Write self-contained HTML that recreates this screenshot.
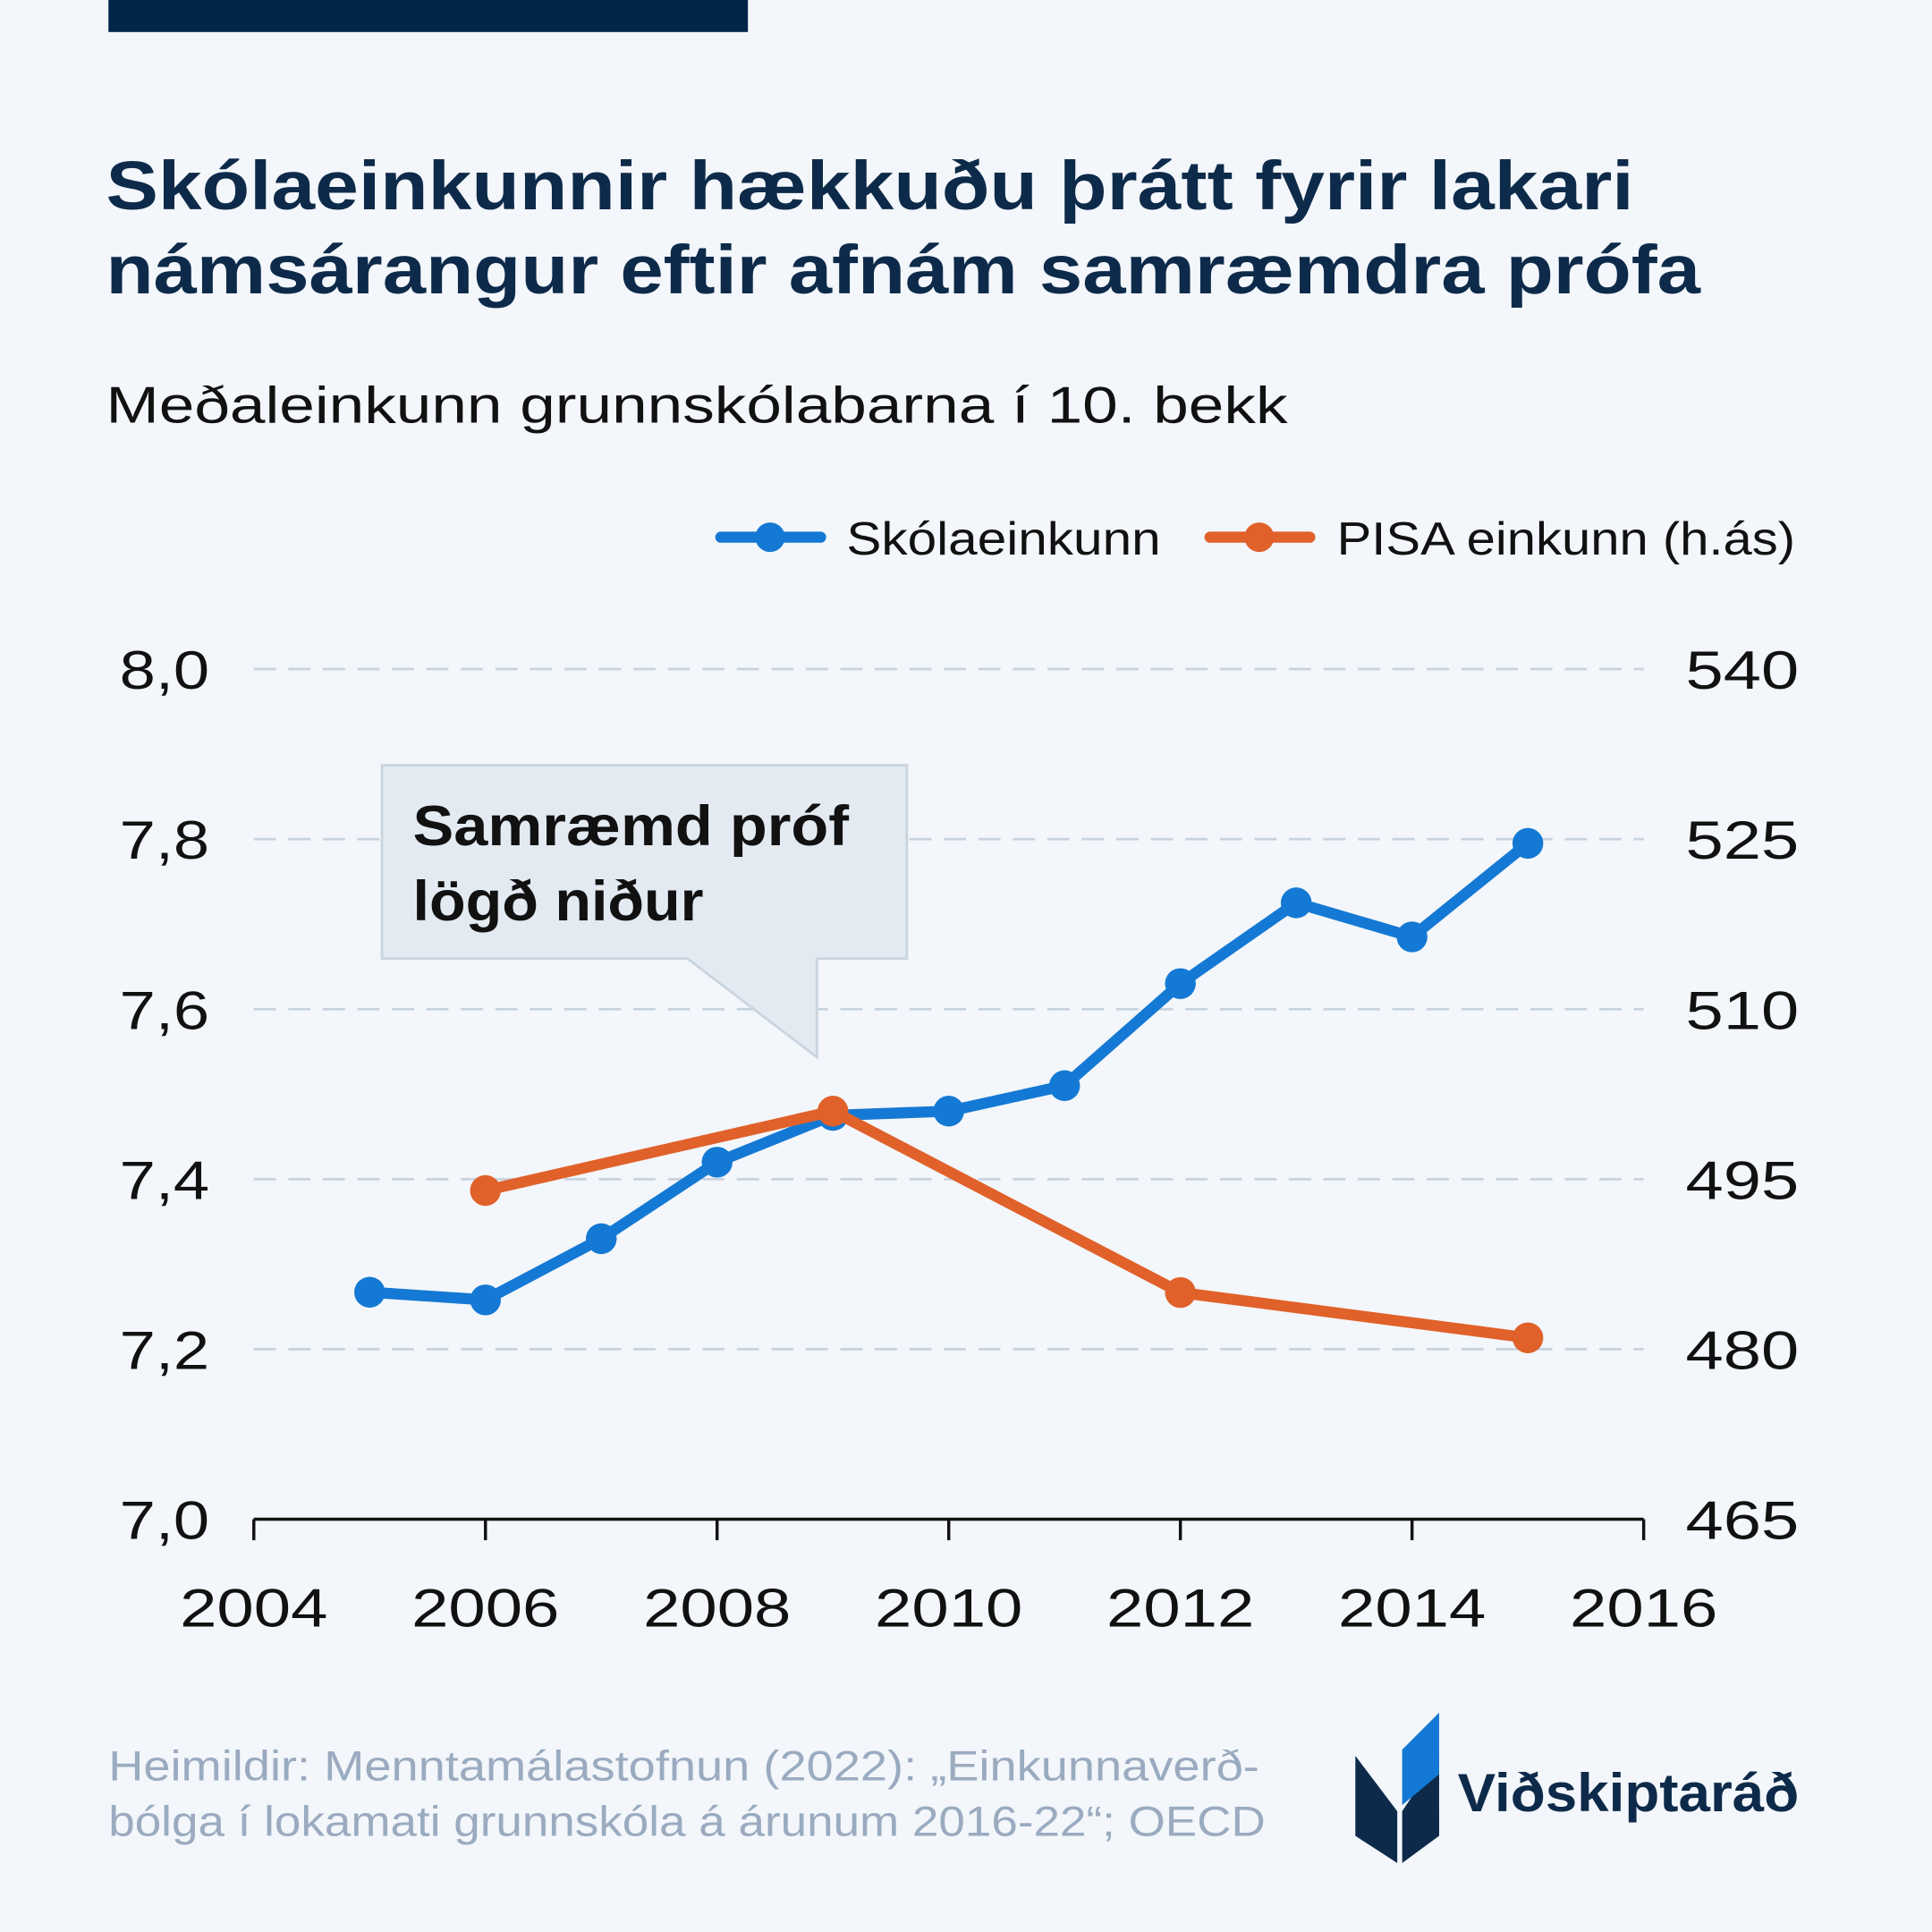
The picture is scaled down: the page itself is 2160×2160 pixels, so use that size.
<!DOCTYPE html>
<html><head><meta charset="utf-8"><style>
html,body{margin:0;padding:0;background:#f3f6fa;}
svg{display:block;font-family:"Liberation Sans",sans-serif;}
</style></head><body>
<svg id="chart" width="2160" height="2160" viewBox="0 0 1568 1568">
<rect width="1568" height="1568" fill="#f3f6fa"/>
<rect x="88" y="0" width="519" height="26" fill="#00264a"/>
<text x="86" y="170" font-size="56" font-weight="bold" fill="#0d2a4a" textLength="1240" lengthAdjust="spacingAndGlyphs">Skólaeinkunnir hækkuðu þrátt fyrir lakari</text>
<text x="86" y="238" font-size="56" font-weight="bold" fill="#0d2a4a" textLength="1294" lengthAdjust="spacingAndGlyphs">námsárangur eftir afnám samræmdra prófa</text>
<text x="86" y="343" font-size="42" fill="#111" textLength="959" lengthAdjust="spacingAndGlyphs">Meðaleinkunn grunnskólabarna í 10. bekk</text>
<g>
<line x1="585" y1="436" x2="666" y2="436" stroke="#1479d4" stroke-width="9" stroke-linecap="round"/>
<circle cx="625" cy="436" r="12" fill="#1479d4"/>
<text x="687" y="450" font-size="38" fill="#111" textLength="255" lengthAdjust="spacingAndGlyphs">Skólaeinkunn</text>
<line x1="982" y1="436" x2="1063" y2="436" stroke="#e0612a" stroke-width="9" stroke-linecap="round"/>
<circle cx="1022" cy="436" r="12" fill="#e0612a"/>
<text x="1085" y="450" font-size="38" fill="#111" textLength="372" lengthAdjust="spacingAndGlyphs">PISA einkunn (h.ás)</text>
</g>
<g id="grid"></g><g id="axes"></g>
<g>
<path d="M310,621 H736 V778 H663 V858 L558,778 H310 Z" fill="#e3eaf2" stroke="#c9d4df" stroke-width="2"/>
<text x="335" y="686" font-size="46" font-weight="bold" fill="#111" textLength="354" lengthAdjust="spacingAndGlyphs">Samræmd próf</text>
<text x="335" y="747" font-size="46" font-weight="bold" fill="#111" textLength="236" lengthAdjust="spacingAndGlyphs">lögð niður</text>
</g>
<g id="series"></g>
<text x="88" y="1445" font-size="34" fill="#9aabc0" textLength="934" lengthAdjust="spacingAndGlyphs">Heimildir: Menntamálastofnun (2022): „Einkunnaverð-</text>
<text x="88" y="1490" font-size="34" fill="#9aabc0" textLength="939" lengthAdjust="spacingAndGlyphs">bólga í lokamati grunnskóla á árunum 2016-22“; OECD</text>
<g>
<path d="M1100,1425 L1134,1470 L1134,1512 L1100,1490 Z" fill="#0d2a4a"/>
<path d="M1168,1425 L1138,1470 L1138,1512 L1168,1490 Z" fill="#0d2a4a"/>
<path d="M1138,1420 L1168,1390 L1168,1440 L1138,1465 Z" fill="#1479d4"/>
<text x="1183" y="1470" font-size="44" font-weight="bold" fill="#0d2a4a" textLength="277" lengthAdjust="spacingAndGlyphs">Viðskiptaráð</text>
</g>
</svg>
<script>
const years=[2005,2006,2007,2008,2009,2010,2011,2012,2013,2014,2015];
const skola=[7.267,7.258,7.33,7.42,7.475,7.48,7.51,7.63,7.725,7.685,7.795];
const pisaYears=[2006,2009,2012,2015];
const pisa=[494,501,485,481];
const leftTicks=[7.0,7.2,7.4,7.6,7.8,8.0];
const rightTicks=[465,480,495,510,525,540];
const xTicks=[2004,2006,2008,2010,2012,2014,2016];
const NS="http://www.w3.org/2000/svg";
const X=y=>206+(y-2004)*(1128/12);
const YL=v=>1233-(v-7)*690;
const YR=v=>1233-(v-465)*(690/75);
function mk(t,a,p){const e=document.createElementNS(NS,t);for(const k in a)e.setAttribute(k,a[k]);p.appendChild(e);return e;}
const grid=document.getElementById('grid'),axes=document.getElementById('axes'),ser=document.getElementById('series');
leftTicks.forEach((v,i)=>{const y=YL(v);
 if(i>0){const l=mk('line',{x1:206,x2:1334,y1:y,y2:y,stroke:'#c8d3e0','stroke-width':2,'stroke-dasharray':'18,10'},grid);
 
 }
 const t=mk('text',{x:170,y:y+16,'font-size':44,'text-anchor':'end',fill:'#111',textLength:73,lengthAdjust:'spacingAndGlyphs'},axes);t.textContent=v.toFixed(1).replace('.',',');
 
 });
rightTicks.forEach(v=>{const t=mk('text',{x:1368,y:YR(v)+16,'font-size':44,fill:'#111',textLength:92,lengthAdjust:'spacingAndGlyphs'},axes);t.textContent=v;
 
 });
const ax=mk('line',{x1:206,x2:1334,y1:1233,y2:1233,stroke:'#111','stroke-width':2.5},axes);


xTicks.forEach(v=>{mk('line',{x1:X(v),x2:X(v),y1:1233,y2:1250,stroke:'#111','stroke-width':2.5},axes);
 const t=mk('text',{x:X(v)-60,y:1320,'font-size':44,fill:'#111',textLength:120,lengthAdjust:'spacingAndGlyphs'},axes);t.textContent=v;
 
 });
function series(xs,vs,fy,col,name){
 const p=mk('polyline',{points:xs.map((x,i)=>X(x)+','+fy(vs[i])).join(' '),fill:'none',stroke:col,'stroke-width':9,'stroke-linejoin':'round'},ser);
 
 
 xs.forEach((x,i)=>{const c=mk('circle',{cx:X(x),cy:fy(vs[i]),r:12.5,fill:col},ser);
 
 });
}
series(years,skola,YL,'#1479d4','skolaeinkunn');
series(pisaYears,pisa,YR,'#e0612a','pisa');
</script>
</body></html>
